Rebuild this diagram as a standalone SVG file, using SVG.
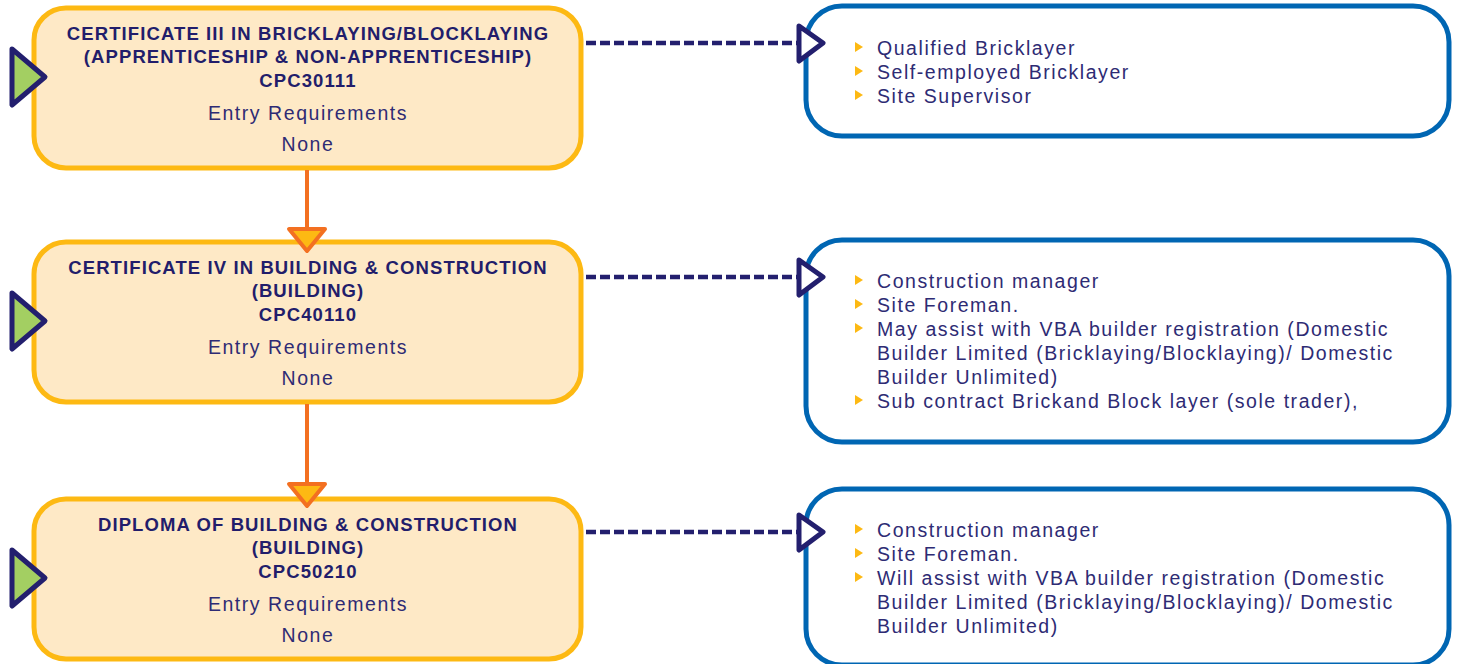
<svg xmlns="http://www.w3.org/2000/svg" width="1458" height="664" viewBox="0 0 1458 664">
<style>
.lbox{fill:#FEE9C6;stroke:#FDB913;stroke-width:5}
.rbox{fill:#FFFFFF;stroke:#0066B3;stroke-width:5}
.start{fill:#A3CF62;stroke:#231F6E;stroke-width:5;stroke-linejoin:round}
.h{font-family:"Liberation Sans",Arial,sans-serif;font-weight:bold;font-size:18.5px;fill:#221D6B;text-anchor:middle;letter-spacing:1.1px}
.t{font-family:"Liberation Sans",Arial,sans-serif;font-size:19.5px;fill:#2E2B74;letter-spacing:1.55px}
.c{text-anchor:middle}
.bul{fill:#FDB913}
.dash{fill:none;stroke:#231F6E;stroke-width:4.5;stroke-dasharray:10 4}
.open{fill:#FFFFFF;stroke:#231F6E;stroke-width:5;stroke-linejoin:round}
.prog{fill:none;stroke:#F37021;stroke-width:4}
.parr{fill:#FDB913;stroke:#F37021;stroke-width:4;stroke-linejoin:round}
</style>
<defs>
<polygon id="b" points="0,-13 8,-8 0,-3"/>
</defs>
<g id="node-cert3">
<rect class="lbox" x="34" y="8" width="547" height="160" rx="32"/>
<polygon class="start" points="12,49 45,77 12,105"/>
<text class="h" x="308" y="40">CERTIFICATE III IN BRICKLAYING/BLOCKLAYING</text>
<text class="h" x="308" y="63">(APPRENTICESHIP &amp; NON-APPRENTICESHIP)</text>
<text class="h" x="308" y="87">CPC30111</text>
<text class="t c" x="308" y="120">Entry Requirements</text>
<text class="t c" x="308" y="151">None</text>
</g>
<g id="node-cert4">
<rect class="lbox" x="34" y="242" width="547" height="160" rx="32"/>
<polygon class="start" points="12,293 45,321 12,349"/>
<text class="h" x="308" y="274">CERTIFICATE IV IN BUILDING &amp; CONSTRUCTION</text>
<text class="h" x="308" y="297">(BUILDING)</text>
<text class="h" x="308" y="321">CPC40110</text>
<text class="t c" x="308" y="354">Entry Requirements</text>
<text class="t c" x="308" y="385">None</text>
</g>
<g id="node-diploma">
<rect class="lbox" x="34" y="499" width="547" height="160" rx="32"/>
<polygon class="start" points="12,550 45,578 12,606"/>
<text class="h" x="308" y="531">DIPLOMA OF BUILDING &amp; CONSTRUCTION</text>
<text class="h" x="308" y="554">(BUILDING)</text>
<text class="h" x="308" y="578">CPC50210</text>
<text class="t c" x="308" y="611">Entry Requirements</text>
<text class="t c" x="308" y="642">None</text>
</g>
<g id="node-out1">
<rect class="rbox" x="806" y="6" width="643" height="130" rx="36"/>
<use href="#b" class="bul" x="855" y="55"/>
<use href="#b" class="bul" x="855" y="79"/>
<use href="#b" class="bul" x="855" y="103"/>
<text class="t" x="877" y="55">Qualified Bricklayer</text>
<text class="t" x="877" y="79">Self-employed Bricklayer</text>
<text class="t" x="877" y="103">Site Supervisor</text>
</g>
<g id="node-out2">
<rect class="rbox" x="806" y="240" width="643" height="202" rx="36"/>
<use href="#b" class="bul" x="855" y="288"/>
<use href="#b" class="bul" x="855" y="312"/>
<use href="#b" class="bul" x="855" y="336"/>
<use href="#b" class="bul" x="855" y="408"/>
<text class="t" x="877" y="288">Construction manager</text>
<text class="t" x="877" y="312">Site Foreman.</text>
<text class="t" x="877" y="336">May assist with VBA builder registration (Domestic</text>
<text class="t" x="877" y="360">Builder Limited (Bricklaying/Blocklaying)/ Domestic</text>
<text class="t" x="877" y="384">Builder Unlimited)</text>
<text class="t" x="877" y="408">Sub contract Brickand Block layer (sole trader),</text>
</g>
<g id="node-out3">
<rect class="rbox" x="806" y="489" width="643" height="176" rx="36"/>
<use href="#b" class="bul" x="855" y="537"/>
<use href="#b" class="bul" x="855" y="561"/>
<use href="#b" class="bul" x="855" y="585"/>
<text class="t" x="877" y="537">Construction manager</text>
<text class="t" x="877" y="561">Site Foreman.</text>
<text class="t" x="877" y="585">Will assist with VBA builder registration (Domestic</text>
<text class="t" x="877" y="609">Builder Limited (Bricklaying/Blocklaying)/ Domestic</text>
<text class="t" x="877" y="633">Builder Unlimited)</text>
</g>
<g id="connectors">
<line class="prog" x1="307" y1="170" x2="307" y2="229"/>
<polygon class="parr" points="289,229 325,229 307,251"/>
<line class="prog" x1="307" y1="404" x2="307" y2="484"/>
<polygon class="parr" points="289,484 325,484 307,506"/>
<line class="dash" x1="586" y1="43" x2="800" y2="43"/>
<polygon class="open" points="799,26 823,43 799,61"/>
<line class="dash" x1="586" y1="277" x2="800" y2="277"/>
<polygon class="open" points="799,260 823,277 799,295"/>
<line class="dash" x1="586" y1="532" x2="800" y2="532"/>
<polygon class="open" points="799,515 823,532 799,550"/>
</g>
</svg>
